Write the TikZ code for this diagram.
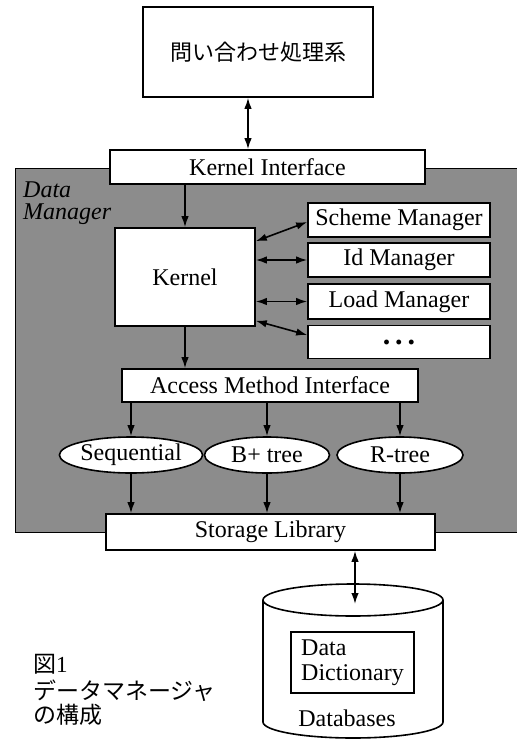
\documentclass[tikz,border=0pt]{standalone}
\usepackage{fontspec}
\setmainfont{Liberation Serif}
\newfontfamily\jpfont{Noto Sans CJK JP}
\usetikzlibrary{arrows.meta,shapes.geometric,calc}
\begin{document}
\begin{tikzpicture}[x=1pt,y=-1pt,
  txt/.style={font=\fontsize{24}{25}\selectfont},
  box/.style={draw,fill=white,line width=1.6pt,inner sep=0pt,txt},
  oval/.style={ellipse,draw,fill=white,line width=1.6pt,inner sep=0pt,txt},
  conn/.style={line width=1.6pt,-{Latex[length=11pt,width=7.5pt]}},
  biconn/.style={line width=1.6pt,{Latex[length=11pt,width=7.5pt]}-{Latex[length=11pt,width=7.5pt]}},
  jptxt/.style={inner sep=0pt,anchor=base west,font=\fontsize{23}{24}\selectfont},
]
\useasboundingbox (0,0) rectangle (517,740);
% shaded Data Manager area
\fill[black!45,draw=black,line width=0.8pt] (15,168) rectangle (517,532);
\node[inner sep=0pt,anchor=base west,font=\fontsize{24}{25}\selectfont\itshape] (dm1) at (23,197) {Data};
\node[inner sep=0pt,anchor=base west,font=\fontsize{24}{25}\selectfont\itshape] (dm2) at (23,219) {Manager};

% nodes
\node[box,minimum width=230pt,minimum height=90pt,font=\jpfont\fontsize{22}{24}\selectfont] (qp) at (258,52) {問い合わせ処理系};
\node[box,minimum width=315pt,minimum height=34pt] (ki) at (267.5,167) {Kernel Interface};
\node[box,minimum width=140pt,minimum height=98pt] (kernel) at (185,277) {Kernel};
\node[box,minimum width=182pt,minimum height=34pt] (sm) at (399,220) {Scheme Manager};
\node[box,minimum width=182pt,minimum height=34pt] (im) at (399,260) {Id Manager};
\node[box,minimum width=182pt,minimum height=35pt] (lm) at (399,301.5) {Load Manager};
\node[box,minimum width=182pt,minimum height=33pt,font=\fontsize{30}{30}\selectfont\bfseries] (om) at (399,342) {.\kern5pt.\kern5pt.};
\node[box,minimum width=296pt,minimum height=33pt] (ami) at (270,385.5) {Access Method Interface};
\node[oval,minimum width=123pt,minimum height=36pt] (seq) at (131,455) {Sequential};
\node[oval,minimum width=125pt,minimum height=36pt] (bpt) at (267,455) {B+ tree};
\node[oval,minimum width=126pt,minimum height=36pt] (rt) at (400,455) {R-tree};
\node[box,minimum width=329pt,minimum height=36pt] (sl) at (270.5,532) {Storage Library};

% database cylinder
\draw[fill=white,line width=1.6pt] (263,600) -- (263,722)
  .. controls (263,730.8) and (303.3,738) .. (353,738)
  .. controls (402.7,738) and (443,730.8) .. (443,722) -- (443,600);
\draw[fill=white,line width=1.6pt] (353,600) ellipse [x radius=90pt, y radius=16pt];
\node[box,align=left,minimum width=123pt,minimum height=61pt] (dd) at (352.5,662.5) {Data\\Dictionary};
\node[txt,inner sep=0pt] (db) at (347,718) {Databases};
\coordinate (dbtop) at (355,604);

% caption
\node[jptxt] (c1) at (33,672) {{\jpfont 図}1};
\node[jptxt] (c2) at (33,699) {\jpfont データマネージャ};
\node[jptxt] (c3) at (33,723) {\jpfont の構成};

% connectors
\draw[biconn] (qp.south -| 248,0) -- (ki.north -| 248,0);
\draw[conn] (ki.south -| kernel.north) -- (kernel.north);
\draw[biconn] ([yshift=-14pt]kernel.north east) -- ([yshift=-2pt]sm.west);
\draw[biconn] (kernel.east |- im.west) -- (im.west);
\draw[biconn] (kernel.east |- lm.west) -- (lm.west);
\draw[biconn] ([yshift=6pt]kernel.south east) -- ([yshift=7pt]om.west);
\draw[conn] (kernel.south) -- (kernel.south |- ami.north);
\draw[conn] (ami.south -| seq.north) -- (seq.north);
\draw[conn] (ami.south -| bpt.north) -- (bpt.north);
\draw[conn] (ami.south -| rt.north) -- (rt.north);
\draw[conn] (seq.south) -- (seq.south |- sl.north);
\draw[conn] (bpt.south) -- (bpt.south |- sl.north);
\draw[conn] (rt.south) -- (rt.south |- sl.north);
\draw[biconn] (sl.south -| dbtop) -- (dbtop);
\end{tikzpicture}
\end{document}
